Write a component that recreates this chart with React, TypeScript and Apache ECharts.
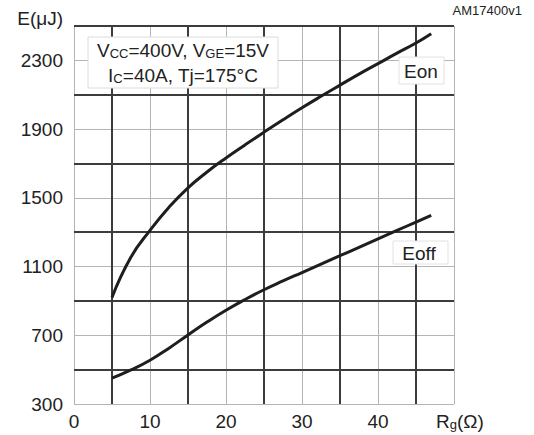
import React, { useEffect, useRef } from "react";
import * as echarts from "echarts";

// Eon curve (Rg in ohm, energy in µJ)
const eonRg = [5, 7.5, 10, 12.5, 15, 17.5, 20, 22.5, 25, 27.5, 30, 32.5, 35, 37.5, 40, 42.5, 45, 47];
const eonE = [920, 1155, 1310, 1445, 1558, 1650, 1732, 1808, 1882, 1954, 2024, 2091, 2156, 2220, 2281, 2342, 2401, 2455];

// Eoff curve
const eoffRg = [5, 7.5, 10, 12.5, 15, 17.5, 20, 22.5, 25, 27.5, 30, 32.5, 35, 37.5, 40, 42.5, 45, 47];
const eoffE = [450, 498, 555, 625, 702, 777, 846, 908, 965, 1016, 1065, 1114, 1163, 1212, 1261, 1310, 1359, 1398];

// axes / grid
const xLabelValues = [0, 10, 20, 30, 40];
const yLabelValues = [300, 700, 1100, 1500, 1900, 2300];
const thinX = [0, 10, 20, 30, 40, 50];
const thickX = [5, 15, 25, 35, 45];
const thinY = [300, 700, 1100, 1500, 1900, 2300];
const thickY = [500, 900, 1300, 1700, 2100, 2500];

const FONT = "Liberation Sans, Arial, sans-serif";
const TXT = "#222";

export default function App() {
  const ref = useRef<HTMLDivElement>(null);

  useEffect(() => {
    if (!ref.current) return;
    const chart = echarts.init(ref.current, undefined, { renderer: "svg" });

    const thinStyle = { color: "#b4b4b4", width: 1, type: "solid" as const };
    const thickStyle = { color: "#3c3c3c", width: 2, type: "solid" as const };

    const gridLines = [
      ...thinX.map((v) => ({ xAxis: v, lineStyle: thinStyle })),
      ...thinY.map((v) => ({ yAxis: v, lineStyle: thinStyle })),
      ...thickX.map((v) => ({ xAxis: v, lineStyle: thickStyle })),
      ...thickY.map((v) => ({ yAxis: v, lineStyle: thickStyle })),
    ];

    const richSub = {
      a: { fontSize: 19, fontFamily: FONT, fill: TXT, color: TXT },
      b: { fontSize: 13, fontFamily: FONT, fill: TXT, color: TXT, verticalAlign: "bottom", padding: [5, 0, 0, 0] },
    };

    const option: any = {
      animation: false,
      backgroundColor: "#fff",
      grid: { left: 74, top: 26, width: 380, height: 378 },
      xAxis: {
        type: "value",
        min: 0,
        max: 50,
        interval: 10,
        axisLine: { show: false },
        axisTick: { show: false },
        splitLine: { show: false },
        axisLabel: {
          customValues: xLabelValues,
          formatter: (v: number) => (v === 50 ? "" : String(v)),
          fontSize: 19,
          color: TXT,
          fontFamily: FONT,
          margin: 8,
        },
      },
      yAxis: {
        type: "value",
        min: 300,
        max: 2500,
        axisLine: { show: false },
        axisTick: { show: false },
        splitLine: { show: false },
        axisLabel: {
          customValues: yLabelValues,
          formatter: (v: number) => String(v),
          fontSize: 19,
          color: TXT,
          fontFamily: FONT,
          margin: 11,
        },
      },
      series: [
        {
          type: "line",
          data: [],
          z: 1,
          silent: true,
          markLine: {
            silent: true,
            symbol: ["none", "none"],
            label: { show: false },
            data: gridLines,
          },
        },
        {
          name: "Eon",
          type: "line",
          z: 5,
          data: eonRg.map((x, i) => [x, eonE[i]]),
          smooth: 0.5,
          symbol: "none",
          lineStyle: { color: "#1e1e1e", width: 3 },
        },
        {
          name: "Eoff",
          type: "line",
          z: 5,
          data: eoffRg.map((x, i) => [x, eoffE[i]]),
          smooth: 0.5,
          symbol: "none",
          lineStyle: { color: "#1e1e1e", width: 3 },
        },
      ],
      graphic: [
        {
          type: "text",
          x: 522,
          y: 10,
          z: 100,
          style: { text: "AM17400v1", font: `13px ${FONT}`, fill: TXT, textAlign: "right", textVerticalAlign: "middle" },
        },
        {
          type: "text",
          x: 63,
          y: 18,
          z: 100,
          style: { text: "E(μJ)", font: `19px ${FONT}`, fill: TXT, textAlign: "right", textVerticalAlign: "middle" },
        },
        {
          type: "rect",
          z: 100,
          shape: { x: 88, y: 37, width: 190, height: 51 },
          style: { fill: "#fff", stroke: "#dcdcdc", lineWidth: 1 },
        },
        {
          type: "text",
          x: 183,
          y: 50,
          z: 101,
          style: {
            text: "{a|V}{b|CC}{a|=400V, V}{b|GE}{a|=15V}",
            fill: TXT,
            textAlign: "center",
            textVerticalAlign: "middle",
            rich: richSub,
          },
        },
        {
          type: "text",
          x: 183,
          y: 75,
          z: 101,
          style: {
            text: "{a|I}{b|C}{a|=40A, Tj=175°C}",
            fill: TXT,
            textAlign: "center",
            textVerticalAlign: "middle",
            rich: richSub,
          },
        },
        {
          type: "rect",
          z: 100,
          shape: { x: 399, y: 57, width: 45, height: 27 },
          style: { fill: "#fff", stroke: "#e2e2e2", lineWidth: 1 },
        },
        {
          type: "text",
          x: 421,
          y: 71,
          z: 101,
          style: { text: "Eon", font: `19px ${FONT}`, fill: TXT, textAlign: "center", textVerticalAlign: "middle" },
        },
        {
          type: "rect",
          z: 100,
          shape: { x: 393, y: 241, width: 55, height: 23 },
          style: { fill: "#fff", stroke: "#e2e2e2", lineWidth: 1 },
        },
        {
          type: "text",
          x: 419,
          y: 253,
          z: 101,
          style: { text: "Eoff", font: `19px ${FONT}`, fill: TXT, textAlign: "center", textVerticalAlign: "middle" },
        },
        {
          type: "text",
          x: 436,
          y: 421,
          z: 100,
          style: {
            text: "{a|R}{b|g}{a|(Ω)}",
            fill: TXT,
            textAlign: "left",
            textVerticalAlign: "middle",
            rich: richSub,
          },
        },
      ],
    };

    chart.setOption(option);
    return () => chart.dispose();
  }, []);

  return (
    <div
      ref={ref}
      style={{ position: "fixed", left: 0, top: 0, width: 534, height: 435, background: "#fff" }}
    />
  );
}
